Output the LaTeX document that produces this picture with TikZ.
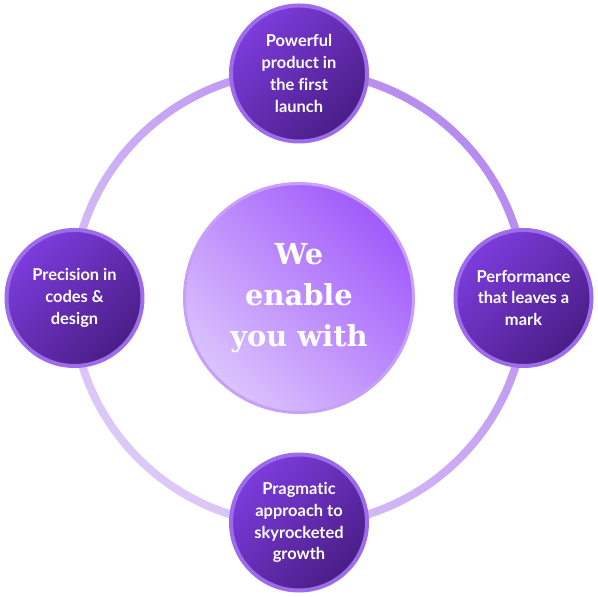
\documentclass[tikz,border=0pt]{standalone}
\usepackage{fontspec}
\setmainfont{Lato}[Ligatures={NoCommon}]
\newfontfamily\hubfont{DejaVu Serif}
\usetikzlibrary{positioning}
\definecolor{hubdark}{HTML}{A15BFB}
\definecolor{hublight}{HTML}{DCC3FD}
\definecolor{hubrim}{HTML}{C7A0F9}
\definecolor{pilllight}{HTML}{7C3CDC}
\definecolor{pilldark}{HTML}{4A1D86}
\definecolor{pillrim}{HTML}{9D6CEA}
\definecolor{ringdark}{HTML}{B78BF0}
\definecolor{ringlight}{HTML}{DDC9F8}

\begin{document}
\begin{tikzpicture}[
  x=1bp, y=1bp,
  node distance=42bp,
  hub/.style={circle, outer sep=0pt, minimum size=229bp, line width=3bp, draw=hubrim,
    top color=hubdark, bottom color=hublight, shading angle=-45,
    text=white, align=center, font=\hubfont\bfseries\fontsize{29}{41}\selectfont},
  pillar/.style={circle, outer sep=0pt, minimum size=136bp, line width=4bp, draw=pillrim,
    top color=pilllight, bottom color=pilldark, shading angle=45,
    text=white, align=center, font=\bfseries\fontsize{16.5}{22}\selectfont}
]
  \useasboundingbox (0,0) rectangle (597,597);

  \node[hub] (hub) at (299,299) {We\\enable\\you with};

  % ring behind the pillars
  \shade[even odd rule, top color=ringdark, bottom color=ringlight, shading angle=-45]
    (hub.center) circle (231) (hub.center) circle (223);

  \node[pillar, above=of hub] (launch) {Powerful\\product in\\the first\\launch};
  \node[pillar, right=of hub] (mark) {Performance\\that leaves a\\mark};
  \node[pillar, below=of hub] (growth) {Pragmatic\\approach to\\skyrocketed\\growth};
  \node[pillar, left=of hub] (design) {Precision in\\codes \&\\design};
\end{tikzpicture}
\end{document}
